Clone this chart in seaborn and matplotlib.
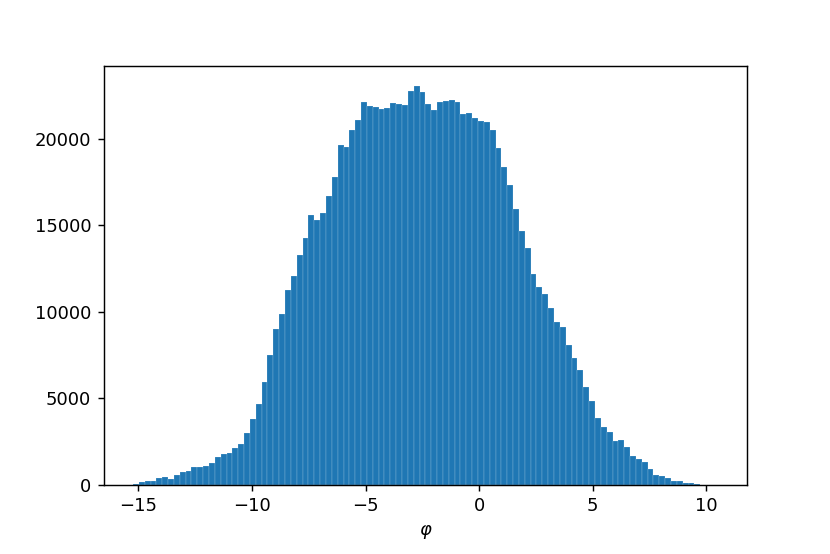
import numpy as np
import pandas as pd
import matplotlib
matplotlib.use('Agg')
import matplotlib.pyplot as plt
import seaborn as sns

# histogram of phi, 100 equal bins
phi_min = -15.24
phi_max = 10.51

counts = [
    40, 145, 220, 240, 375, 430, 320, 585, 740, 815,
    1010, 1010, 1070, 1280, 1610, 1760, 1840, 2110, 2360, 2980,
    3786, 4670, 5960, 7485, 8990, 9870, 11240, 12070, 13280, 14280,
    15610, 15320, 15690, 16690, 17790, 19640, 19540, 20530, 21090, 22110,
    21880, 21860, 21720, 21760, 22070, 21990, 21930, 22760, 23030, 22730,
    21990, 21680, 22110, 22200, 22220, 22140, 21450, 21470, 21180, 21030,
    20970, 20530, 19470, 18370, 17310, 15940, 14690, 13690, 12170, 11450,
    11030, 10220, 9430, 9100, 8100, 7330, 6650, 5650, 4830, 3860,
    3340, 3030, 2530, 2570, 2180, 1660, 1490, 1320, 910, 580,
    510, 375, 220, 200, 120, 100, 20, 8, 3, 1,
]

edges = np.linspace(phi_min, phi_max, len(counts) + 1)
df = pd.DataFrame({'phi': (edges[:-1] + edges[1:]) / 2, 'n': counts})

fig = plt.figure(figsize=(6.4, 6.4 * 554 / 830), dpi=830 / 6.4)
ax = fig.add_subplot(111)
fig.subplots_adjust(left=0.125, right=0.9, top=0.88, bottom=0.125)

sns.histplot(data=df, x='phi', weights='n', bins=edges.tolist(), alpha=1,
             color='#1f77b4', edgecolor=(1, 1, 1, 0.6), linewidth=0.15, ax=ax)
ax.set_ylabel('')
ax.set_xlabel(r'$\varphi$')

fig.savefig('out.png', dpi=830 / 6.4)
plt.close(fig)
